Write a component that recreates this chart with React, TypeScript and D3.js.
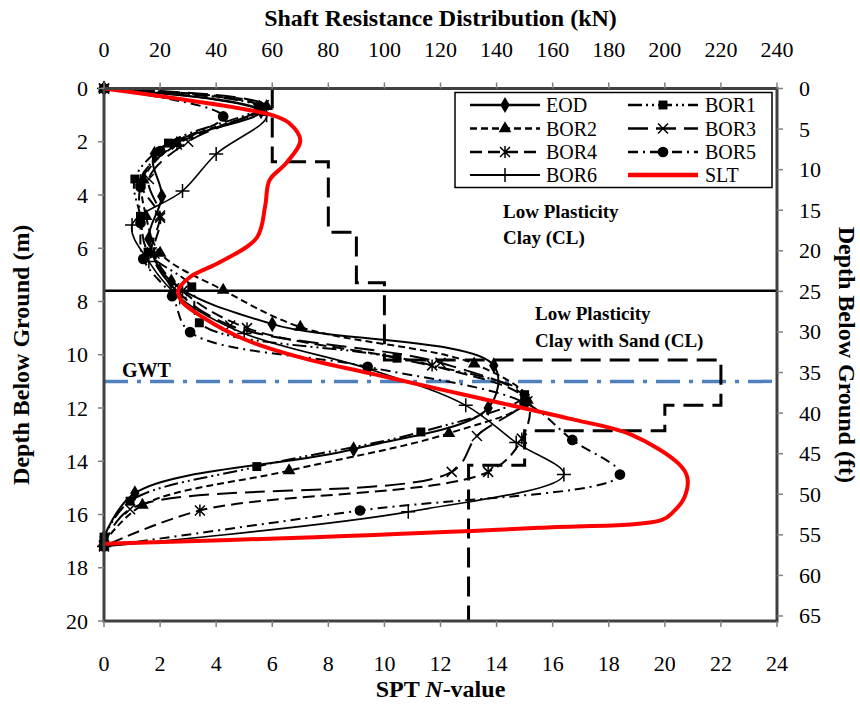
import React from "react";
import * as d3 from "d3";

const W = 860;
const H = 704;
const PL = 104, PR = 777, PT = 88.5, PB = 621;

// Axis ticks
const nTicks = d3.range(0, 25, 2);
const kNTicks = d3.range(0, 241, 20);
const depthTicks = d3.range(0, 21, 2);
const ftTicks = d3.range(0, 66, 5);

// Series (depth in m, SPT N-value scale)
const eodDepth = [0, 0.85, 2.45, 4.05, 5.65, 7.25, 8.85, 10.4, 12.0, 13.55, 15.2, 16.85];
const eodN = [0, 5.6, 1.8, 2.06, 1.6, 2.4, 6.0, 13.9, 13.7, 8.9, 1.1, 0];

const bor1Depth = [0, 0.7, 2.05, 3.4, 4.8, 6.15, 7.45, 8.8, 10.13, 11.5, 12.9, 14.2, 15.5, 16.85];
const bor1N = [0, 5.5, 2.3, 1.1, 1.3, 1.57, 3.13, 3.4, 10.45, 15.0, 11.3, 5.45, 0.93, 0];

const bor2Depth = [0, 0.67, 2.05, 3.43, 4.8, 6.18, 7.57, 8.96, 10.34, 11.7, 12.95, 14.35, 15.65, 17.05];
const bor2N = [0, 5.8, 2.6, 1.4, 1.5, 2.0, 4.25, 7.0, 13.2, 15.1, 12.3, 6.6, 1.37, 0];

const bor3Depth = [0, 0.63, 2.0, 3.4, 4.77, 6.15, 7.5, 8.9, 10.3, 11.67, 13.05, 14.4, 15.8, 17.15];
const bor3N = [0, 5.7, 3.0, 1.6, 2.0, 1.7, 2.5, 4.5, 12.0, 15.0, 13.3, 12.4, 0.93, 0];

const bor4Depth = [0, 0.7, 2.1, 3.45, 4.85, 6.2, 7.6, 9.0, 10.4, 11.75, 13.15, 14.4, 15.85, 17.2];
const bor4N = [0, 5.6, 2.6, 1.3, 2.0, 1.8, 2.8, 5.1, 11.7, 15.1, 14.9, 13.7, 3.42, 0];

const bor5Depth = [0, 1.05, 2.35, 3.7, 5.05, 6.4, 7.8, 9.15, 10.45, 11.8, 13.2, 14.5, 15.85, 17.2];
const bor5N = [0, 4.25, 2.0, 1.3, 1.3, 1.4, 2.43, 3.07, 9.4, 15.0, 16.7, 18.4, 9.13, 0];

const bor6Depth = [0, 1.0, 2.46, 3.85, 5.13, 6.5, 7.85, 9.2, 10.55, 11.9, 13.3, 14.5, 15.9, 17.2];
const bor6N = [0, 5.8, 4.0, 2.8, 1.0, 1.6, 2.7, 5.0, 9.5, 12.9, 14.7, 16.4, 10.85, 0];

const sltDepth = [0, 1.0, 1.3, 1.95, 2.8, 3.45, 4.4, 5.6, 6.52, 7.08, 7.57, 8.0, 8.6, 9.4, 10.1, 10.7, 11.3, 11.8, 12.4, 13.0, 14.1, 14.6, 15.35, 15.9, 16.2, 16.5, 16.85, 17.1];
const sltN = [0, 6.0, 6.6, 7.0, 6.5, 5.9, 5.75, 5.45, 4.14, 3.07, 2.65, 2.78, 3.54, 4.96, 7.0, 9.5, 12.0, 14.1, 16.6, 18.8, 20.5, 20.8, 20.7, 20.3, 19.9, 15.5, 7.5, 0];

// SPT N-value step profile
const sptDepth = [0, 2.75, 2.75, 5.4, 5.4, 7.3, 7.3, 10.2, 10.2, 11.9, 11.9, 12.85, 12.85, 14.15, 14.15, 20];
const sptN = [6, 6, 8, 8, 9, 9, 10, 10, 22, 22, 20, 20, 15, 15, 13, 13];

const layerDepth = 7.6;
const gwtDepth = 11.0;

const x = d3.scaleLinear().domain([0, 24]).range([PL, PR]);
const xTop = d3.scaleLinear().domain([0, 240]).range([PL, PR]);
const y = d3.scaleLinear().domain([0, 20]).range([PT, PB]);
const yFt = d3.scaleLinear().domain([0, 20 / 0.3048]).range([PT, PB]);

const FONT = "'Liberation Serif', 'Times New Roman', serif";

type Series = {
  name: string;
  depth: number[];
  n: number[];
  dash: string | null;
  width: number;
  marker: string;
  color: string;
};

const series: Series[] = [
  { name: "EOD", depth: eodDepth, n: eodN, dash: null, width: 2, marker: "diamond", color: "#000" },
  { name: "BOR1", depth: bor1Depth, n: bor1N, dash: "14 4 2 4 2 4", width: 2, marker: "square", color: "#000" },
  { name: "BOR2", depth: bor2Depth, n: bor2N, dash: "7 4", width: 2, marker: "triangle", color: "#000" },
  { name: "BOR3", depth: bor3Depth, n: bor3N, dash: "20 8", width: 2, marker: "x", color: "#000" },
  { name: "BOR4", depth: bor4Depth, n: bor4N, dash: "12 6", width: 2, marker: "asterisk", color: "#000" },
  { name: "BOR5", depth: bor5Depth, n: bor5N, dash: "10 5 2 5", width: 2, marker: "circle", color: "#000" },
  { name: "BOR6", depth: bor6Depth, n: bor6N, dash: null, width: 1.6, marker: "plus", color: "#000" },
  { name: "SLT", depth: sltDepth, n: sltN, dash: null, width: 4, marker: "none", color: "#ff0000" },
];

const smooth = d3
  .line<[number, number]>()
  .x((d) => x(d[0]))
  .y((d) => y(d[1]))
  .curve(d3.curveCatmullRom.alpha(0.5));

const straight = d3
  .line<[number, number]>()
  .x((d) => x(d[0]))
  .y((d) => y(d[1]));

function Marker({ type, cx, cy }: { type: string; cx: number; cy: number }) {
  const t = `translate(${cx},${cy})`;
  switch (type) {
    case "diamond":
      return <path transform={t} d={d3.symbol(d3.symbolDiamond, 75)() as string} fill="#000" />;
    case "square":
      return <path transform={t} d={d3.symbol(d3.symbolSquare, 80)() as string} fill="#000" />;
    case "triangle":
      return <path transform={t} d={d3.symbol(d3.symbolTriangle, 70)() as string} fill="#000" />;
    case "circle":
      return <path transform={t} d={d3.symbol(d3.symbolCircle, 90)() as string} fill="#000" />;
    case "x":
      return <path transform={t} d="M-5,-5L5,5M-5,5L5,-5" stroke="#000" strokeWidth={1.5} fill="none" />;
    case "asterisk":
      return (
        <path transform={t} d="M-5,-5L5,5M-5,5L5,-5M0,-6L0,6" stroke="#000" strokeWidth={1.5} fill="none" />
      );
    case "plus":
      return <path transform={t} d="M-7,0L7,0M0,-7L0,7" stroke="#000" strokeWidth={1.5} fill="none" />;
    default:
      return null;
  }
}

export default function App() {
  const legendRows = [105, 128.5, 152, 175];
  const legendCols = [
    { x1: 470, x2: 540, tx: 546 },
    { x1: 628, x2: 698, tx: 705 },
  ];

  return (
    <svg
      width={W}
      height={H}
      style={{ position: "fixed", left: 0, top: 0, background: "#fff" }}
      fontFamily={FONT}
    >
      <rect x={0} y={0} width={W} height={H} fill="#fff" />

      {/* layer boundary */}
      <line x1={PL} x2={PR} y1={y(layerDepth)} y2={y(layerDepth)} stroke="#000" strokeWidth={2.5} />
      {/* GWT */}
      <line
        x1={PL}
        x2={PR}
        y1={y(gwtDepth)}
        y2={y(gwtDepth)}
        stroke="#4f81bd"
        strokeWidth={3.5}
        strokeDasharray="24 9 4 9"
      />

      {/* SPT step profile */}
      <path
        d={straight(sptN.map((v, i) => [v, sptDepth[i]] as [number, number])) as string}
        fill="none"
        stroke="#000"
        strokeWidth={3}
        strokeDasharray="20 9"
      />

      {/* series */}
      {series.map((s) => {
        const pts = s.n.map((v, i) => [v, s.depth[i]] as [number, number]);
        return (
          <g key={s.name}>
            <path
              d={smooth(pts) as string}
              fill="none"
              stroke={s.color}
              strokeWidth={s.width}
              strokeDasharray={s.dash ?? undefined}
              strokeLinejoin="round"
            />
            {s.marker !== "none" &&
              pts.map((p, i) => <Marker key={i} type={s.marker} cx={x(p[0])} cy={y(p[1])} />)}
          </g>
        );
      })}

      {/* frame */}
      <rect x={PL} y={PT} width={PR - PL} height={PB - PT} fill="none" stroke="#404040" strokeWidth={3} />

      {/* bottom axis */}
      {nTicks.map((t) => (
        <g key={"b" + t}>
          <line x1={x(t)} x2={x(t)} y1={PB} y2={PB + 6} stroke="#808080" strokeWidth={1.5} />
          <text x={x(t)} y={PB + 50} textAnchor="middle" fontSize={22}>
            {t}
          </text>
        </g>
      ))}
      {/* top axis */}
      {kNTicks.map((t) => (
        <g key={"t" + t}>
          <line x1={xTop(t)} x2={xTop(t)} y1={PT} y2={PT - 6} stroke="#808080" strokeWidth={1.5} />
          <text x={xTop(t)} y={PT - 32} textAnchor="middle" fontSize={22}>
            {t}
          </text>
        </g>
      ))}
      {/* left axis */}
      {depthTicks.map((t) => (
        <g key={"l" + t}>
          <line x1={PL} x2={PL - 6} y1={y(t)} y2={y(t)} stroke="#808080" strokeWidth={1.5} />
          <text x={PL - 16} y={y(t) + 7.5} textAnchor="end" fontSize={22}>
            {t}
          </text>
        </g>
      ))}
      {/* right axis */}
      {ftTicks.map((t) => (
        <g key={"r" + t}>
          <line x1={PR} x2={PR + 6} y1={yFt(t)} y2={yFt(t)} stroke="#808080" strokeWidth={1.5} />
          <text x={PR + 22} y={yFt(t) + 7.5} textAnchor="start" fontSize={22}>
            {t}
          </text>
        </g>
      ))}

      {/* axis titles */}
      <text x={(PL + PR) / 2} y={26} textAnchor="middle" fontSize={24} fontWeight="bold">
        Shaft Resistance Distribution (kN)
      </text>
      <text x={(PL + PR) / 2} y={697} textAnchor="middle" fontSize={24} fontWeight="bold">
        <tspan>SPT </tspan>
        <tspan fontStyle="italic">N</tspan>
        <tspan>-value</tspan>
      </text>
      <text
        transform={`translate(29,${(PT + PB) / 2}) rotate(-90)`}
        textAnchor="middle"
        fontSize={24}
        fontWeight="bold"
      >
        Depth Below Ground (m)
      </text>
      <text
        transform={`translate(839,${(PT + PB) / 2}) rotate(90)`}
        textAnchor="middle"
        fontSize={24}
        fontWeight="bold"
      >
        Depth Below Ground (ft)
      </text>

      {/* annotations */}
      <text x={503} y={218} fontSize={19} fontWeight="bold">
        Low Plasticity
      </text>
      <text x={503} y={244} fontSize={19} fontWeight="bold">
        Clay (CL)
      </text>
      <text x={535} y={320} fontSize={19} fontWeight="bold">
        Low Plasticity
      </text>
      <text x={535} y={347} fontSize={19} fontWeight="bold">
        Clay with Sand (CL)
      </text>
      <text x={122} y={377} fontSize={20} fontWeight="bold">
        GWT
      </text>

      {/* legend */}
      <rect x={455} y={92.5} width={317} height={95} fill="#fff" stroke="#000" strokeWidth={1.5} />
      {series.map((s, i) => {
        const col = legendCols[i % 2];
        const ry = legendRows[Math.floor(i / 2)];
        return (
          <g key={"lg" + s.name}>
            <line
              x1={col.x1}
              x2={col.x2}
              y1={ry}
              y2={ry}
              stroke={s.color}
              strokeWidth={s.name === "SLT" ? 4.5 : s.width + 0.5}
              strokeDasharray={s.dash ?? undefined}
            />
            {s.marker !== "none" && <Marker type={s.marker} cx={(col.x1 + col.x2) / 2} cy={ry} />}
            <text x={col.tx} y={ry + 7} fontSize={20}>
              {s.name}
            </text>
          </g>
        );
      })}
    </svg>
  );
}
